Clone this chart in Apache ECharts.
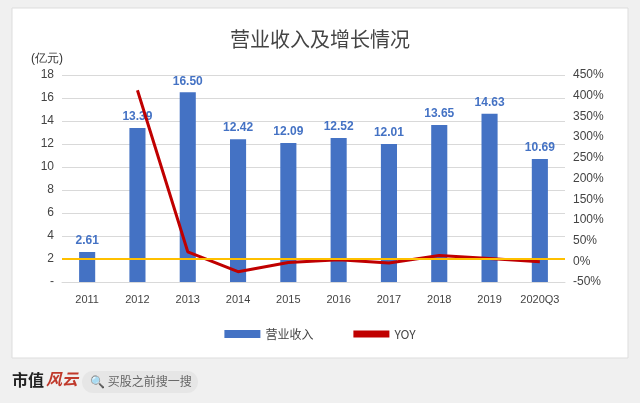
<!DOCTYPE html>
<html><head><meta charset="utf-8">
<script src="https://cdn.jsdelivr.net/npm/echarts@6/dist/echarts.min.js"></script>
<style>html,body{margin:0;padding:0;background:#f0f0f0}#c{width:640px;height:403px}</style>
</head><body><div id="c"></div>
<script>
var categories=['2011','2012','2013','2014','2015','2016','2017','2018','2019','2020Q3'];
var revenue=[2.61,13.39,16.50,12.42,12.09,12.52,12.01,13.65,14.63,10.69];
var yoy=[null,413,23,-25,-3,4,-4,14,7,-1];
var chart=echarts.init(document.getElementById('c'));
var F='"Microsoft YaHei","Noto Sans CJK SC",sans-serif';
chart.setOption({
 backgroundColor:'#f0f0f0',
 graphic:[
  {type:'rect',shape:{x:12,y:8,width:616,height:350},style:{fill:'#fff',stroke:'#ddd'},z:-10},
  {type:'text',left:12,top:372,style:{text:'市值',font:'bold 16px "Noto Sans CJK SC"',fill:'#222'}},
  {type:'text',left:46,top:371,style:{text:'风云',font:'italic bold 16px "Noto Sans CJK SC"',fill:'#c0392b'}},
  {type:'rect',shape:{x:82,y:371,width:116,height:22,r:11},style:{fill:'#e6e6e6'}},
  {type:'text',left:90,top:375,style:{text:'🔍 买股之前搜一搜',font:'12px "Noto Sans CJK SC"',fill:'#666'}}
 ],
 title:{text:'营业收入及增长情况',left:'center',top:24,textStyle:{fontFamily:F,fontSize:20,fontWeight:'normal',color:'#444'}},
 legend:{bottom:58,itemGap:40,textStyle:{fontFamily:F,fontSize:12,color:'#444'},data:[{name:'营业收入',icon:'rect'},{name:'YOY',icon:'path://M0,0H10V2H0Z'}],itemWidth:36,itemHeight:8},
 grid:{left:62,right:75,top:75,bottom:121},
 xAxis:{type:'category',data:categories,axisTick:{show:false},axisLine:{lineStyle:{color:'#d9d9d9'}},axisLabel:{color:'#444',fontSize:11,margin:12,interval:0}},
 yAxis:[
  {type:'value',min:0,max:18,interval:2,name:'(亿元)',nameGap:10,nameTextStyle:{color:'#333',fontSize:12,padding:[0,30,0,0]},
   axisLabel:{color:'#444',fontSize:12,formatter:function(v){return v===0?'-':v;}},splitLine:{lineStyle:{color:'#d9d9d9'}},axisLine:{show:false},axisTick:{show:false}},
  {type:'value',min:-50,max:450,interval:50,axisLabel:{color:'#444',fontSize:12,formatter:'{value}%'},splitLine:{show:false},axisLine:{show:false},axisTick:{show:false}}
 ],
 series:[
  {name:'营业收入',type:'bar',data:revenue,barWidth:'32%',itemStyle:{color:'#4472c4'},
   label:{show:true,position:'top',color:'#4472c4',fontWeight:'bold',fontSize:12,formatter:function(p){return p.value.toFixed(2);}}},
  {name:'YOY',type:'line',yAxisIndex:1,data:yoy,symbol:'none',lineStyle:{color:'#c00000',width:3},itemStyle:{color:'#c00000'},
   markLine:{silent:true,symbol:'none',label:{show:false},lineStyle:{color:'#ffc000',width:2,type:'solid'},data:[{yAxis:5}]}}
 ]
});
</script></body></html>
